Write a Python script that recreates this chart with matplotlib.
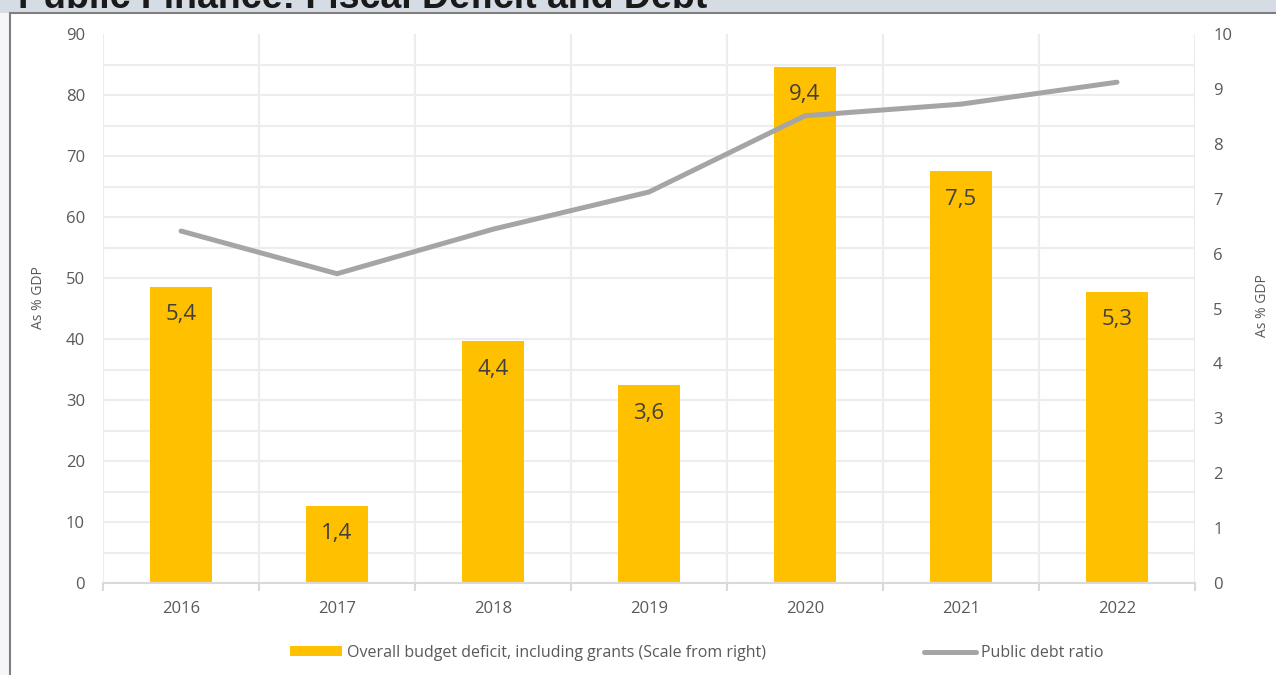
import matplotlib.pyplot as plt
import numpy as np
from matplotlib.patches import Rectangle
from matplotlib.ticker import FixedLocator

# dados
years = ['2016', '2017', '2018', '2019', '2020', '2021', '2022']
deficit = [5.4, 1.4, 4.4, 3.6, 9.4, 7.5, 5.3]          # eixo da direita
debt_ratio = [57.7, 50.7, 58.0, 64.1, 76.6, 78.5, 82.1]  # eixo da esquerda
left_ticks = [0, 10, 20, 30, 40, 50, 60, 70, 80, 90]
right_ticks = [0, 1, 2, 3, 4, 5, 6, 7, 8, 9, 10]

title = 'Public Finance: Fiscal Deficit and Debt'
bar_name = 'Overall budget deficit, including grants (Scale from right)'
line_name = 'Public debt ratio'

plt.rcParams['font.family'] = ['Open Sans', 'DejaVu Sans']

W, H = 1276, 675
fig = plt.figure(figsize=(W / 100, H / 100), dpi=100)
fig.patch.set_facecolor('#f6f6f8')

# cabecalho e painel branco (por baixo dos eixos)
fig.patches.append(Rectangle((0, 1 - 13 / H), 1, 13 / H, transform=fig.transFigure,
                             facecolor='#d6dce4', edgecolor='none', zorder=-10))
fig.patches.append(Rectangle((10 / W, -0.01), 1.0, 1 - 13 / H + 0.01, transform=fig.transFigure,
                             facecolor='white', edgecolor='#7f7f7f', linewidth=1.5, zorder=-9))
fig.text(18 / W, 1 - 8 / H, title, fontsize=27, fontweight='bold', color='#1a1a1a',
         family='Liberation Sans', ha='left', va='baseline')

ax = fig.add_axes([103 / W, 1 - 583 / H, (1195 - 103) / W, (583 - 34) / H])
ax2 = ax.twinx()
ax2.set_zorder(1)
ax.set_zorder(2)
ax.patch.set_visible(False)
ax2.patch.set_visible(False)

x = np.arange(len(years))

# barras (escala da direita)
bars = ax2.bar(x, deficit, width=0.4, color='#ffc000', zorder=2, label=bar_name)
for xi, v in zip(x, deficit):
    ax2.annotate(f'{v:.1f}'.replace('.', ','), (xi, v), xytext=(0, -20),
                 textcoords='offset points', ha='center', va='center',
                 fontsize=16, color='#404040', zorder=3)

# linha (escala da esquerda)
line, = ax.plot(x, debt_ratio, color='#a5a5a5', lw=3.6, solid_capstyle='round',
                solid_joinstyle='round', label=line_name)

ax.set_xlim(-0.5, len(years) - 0.5)
ax.set_ylim(0, 90)
ax2.set_ylim(0, 10)
ax.set_yticks(left_ticks)
ax2.set_yticks(right_ticks)
ax.set_xticks(x)
ax.set_xticklabels(years)
ax.xaxis.set_minor_locator(FixedLocator(np.arange(-0.5, len(years), 1.0)))

# grelha por baixo das barras
ax2.yaxis.set_minor_locator(FixedLocator(np.linspace(0, 10, 19)))
ax2.xaxis.set_visible(True)
ax2.grid(True, which='minor', axis='both', color='#ededed', lw=1.6)
ax2.set_axisbelow(True)
ax2.tick_params(axis='x', which='both', bottom=False, top=False, labelbottom=False, labeltop=False)
ax2.tick_params(axis='y', which='minor', length=0)

for a in (ax, ax2):
    for s in a.spines.values():
        s.set_visible(False)
ax.spines['bottom'].set_visible(True)
ax.spines['bottom'].set_color('#d9d9d9')
ax.spines['bottom'].set_linewidth(1.5)

ax.tick_params(axis='x', which='major', length=0, pad=13, labelsize=12, labelcolor='#595959')
ax.tick_params(axis='x', which='minor', length=6, width=1.5, color='#d9d9d9')
ax.tick_params(axis='y', length=0, pad=13, labelsize=12, labelcolor='#595959')
ax2.tick_params(axis='y', which='major', length=0, pad=13, labelsize=12, labelcolor='#595959')

fig.text(38 / W, 1 - 298 / H, 'As % GDP', rotation=90, ha='center', va='center',
         fontsize=10, color='#595959')
fig.text(1262 / W, 1 - 306 / H, 'As % GDP', rotation=90, ha='center', va='center',
         fontsize=10, color='#595959')

fig.legend([bars, line], [bar_name, line_name], loc='center', ncol=2,
           bbox_to_anchor=(697 / W, 1 - 653 / H), frameon=False, fontsize=11.5,
           labelcolor='#595959', handlelength=3.25, handleheight=0.6, handletextpad=0.3,
           columnspacing=9.9)

fig.savefig('out.png', dpi=100, facecolor=fig.get_facecolor())
